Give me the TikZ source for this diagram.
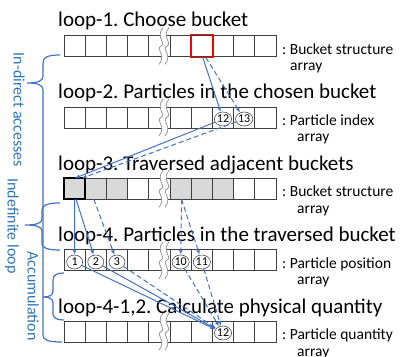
\documentclass[tikz,border=0pt]{standalone}
\usepackage{fontspec}
\setmainfont{Carlito}
\frenchspacing
\usetikzlibrary{arrows.meta,shapes.geometric}
\definecolor{lnblue}{RGB}{68,114,196}
\definecolor{txblue}{RGB}{46,117,182}
\definecolor{cellgray}{RGB}{217,217,217}
\newcommand\wavebrk[2]{%
  \fill[white] (163,#1-8) .. controls (155,#1+2) and (167,#1+7) .. (161,{(#1+#2)/2}) .. controls (155,#2-7) and (167,#2-2) .. (159,#2+8)
     -- (165,#2+8) .. controls (173,#2-2) and (161,#2-7) .. (167,{(#1+#2)/2}) .. controls (173,#1+7) and (161,#1+2) .. (169,#1-8) -- cycle;
  \draw[black!45, line width=0.7pt] (163,#1-8) .. controls (155,#1+2) and (167,#1+7) .. (161,{(#1+#2)/2}) .. controls (155,#2-7) and (167,#2-2) .. (159,#2+8);
  \draw[black!45, line width=0.7pt] (169,#1-8) .. controls (161,#1+2) and (173,#1+7) .. (167,{(#1+#2)/2}) .. controls (161,#2-7) and (173,#2-2) .. (165,#2+8);
}
\begin{document}
\begin{tikzpicture}[x=1pt,y=-1pt,
  cell/.style={draw=black!75, line width=0.8pt, minimum width=21.2pt, minimum height=21pt, inner sep=0pt, outer sep=0pt},
  pnum/.style={ellipse, draw=black!70, line width=0.6pt, fill=white, minimum width=16pt, minimum height=14pt, inner sep=0pt, font=\fontsize{12}{12}\selectfont},
  title/.style={anchor=base west, inner sep=0pt, font=\fontsize{21}{24}\selectfont},
  lbl/.style={anchor=base west, inner sep=0pt, font=\fontsize{15.5}{18}\selectfont},
  side/.style={text=txblue, rotate=-90, inner sep=0pt, font=\fontsize{16}{18}\selectfont},
  brace/.style={draw=lnblue, line width=1.2pt},
  arr/.style={draw=lnblue, line width=1pt, -{Latex[length=5pt,width=4pt]}},
  darr/.style={arr, dash pattern=on 5pt off 3pt},
]
\useasboundingbox (0,0) rectangle (401,356);

% arrays
\foreach \rr/\yy in {1/46,2/117.4,4/260.2,5/331.6} {
  \foreach \ii in {1,...,10} {
    \node[cell] (r\rr c\ii) at ({64+21.2*(\ii-0.5)}, \yy) {};
  }
}
\foreach \ii/\ff in {1/cellgray,2/cellgray,3/cellgray,4/white,5/white,6/cellgray,7/cellgray,8/cellgray,9/white,10/white} {
  \node[cell, fill=\ff] (r3c\ii) at ({64+21.2*(\ii-0.5)}, 188.8) {};
}
\wavebrk{35.5}{56.5}
\wavebrk{106.9}{127.9}
\wavebrk{178.3}{199.3}
\wavebrk{249.7}{270.7}
\wavebrk{321.1}{342.1}

% highlighted cells
\node[draw=red, line width=1.8pt, minimum width=22pt, minimum height=23pt, inner sep=0pt, outer sep=0pt] (red) at (r1c7) {};
\node[draw=black, fill=cellgray, line width=1.8pt, minimum width=21.2pt, minimum height=21pt, inner sep=0pt, outer sep=0pt] (thk) at (r3c1) {};

% particle numbers
\node[pnum] (a12) at (223,119) {12};
\node[pnum] (a13) at (244.2,119) {13};
\node[pnum] (p1) at (74.6,262) {1};
\node[pnum] (p2) at (95.8,262) {2};
\node[pnum] (p3) at (117,262) {3};
\node[pnum] (p10) at (180.6,262) {10};
\node[pnum] (p11) at (201.8,262) {11};
\node[pnum] (q12) at (223,333) {12};

% titles
\node[title] (t1) at (58,27) {loop-1. Choose bucket};
\node[title] (t2) at (58,98.5) {loop-2. Particles in the chosen bucket};
\node[title] (t3) at (58,170) {loop-3. Traversed adjacent buckets};
\node[title] (t4) at (58,241) {loop-4. Particles in the traversed bucket};
\node[title] (t5) at (58,313) {loop-4-1,2. Calculate physical quantity};

% right labels
\node[lbl] (l1a) at (282,54) {: Bucket structure};
\node[lbl] (l1b) at (290,70.5) {array};
\node[lbl] (l2a) at (282,125.4) {: Particle index};
\node[lbl] (l2b) at (297,141.9) {array};
\node[lbl] (l3a) at (282,196.8) {: Bucket structure};
\node[lbl] (l3b) at (297,213.3) {array};
\node[lbl] (l4a) at (282,268.2) {: Particle position};
\node[lbl] (l4b) at (297,284.7) {array};
\node[lbl] (l5a) at (282,339.6) {: Particle quantity};
\node[lbl] (l5b) at (297,356) {array};

% arrows
\draw[arr] ([xshift=1pt]red.south) -- (a12);
\draw[darr] ([xshift=4pt]red.south) -- (a13);
\draw[arr] (a12) -- (thk.north);
\draw[darr] (a13) -- ([xshift=7pt]thk.north);
\draw[arr] (thk.south) -- (p1);
\draw[arr] ([xshift=1.5pt]thk.south) -- (p2);
\draw[darr] ([xshift=-2pt]r3c2.south) -- (p3);
\draw[darr] ([xshift=1pt]r3c6.south) -- (p10);
\draw[darr] ([xshift=1pt]r3c6.south) -- (p11);
\draw[arr] (p1) -- (q12);
\draw[arr] (p2) -- (q12);
\draw[darr] (p3) -- (q12);
\draw[darr] (p10) -- (q12);
\draw[darr] (p11) -- (q12);

% braces
\draw[brace] (60,55) .. controls (48,55) and (43,57) .. (43,63) -- (43,76) .. controls (43,81) and (38,83) .. (27,83) .. controls (38,83) and (43,85) .. (43,90) -- (43,335) .. controls (43,340) and (48,342) .. (62,342);
\draw[brace] (60,203) .. controls (48,203) and (42,205) .. (42,210) -- (42,219) .. controls (42,223) and (37,225) .. (25,225) .. controls (37,225) and (42,227) .. (42,231) -- (42,244) .. controls (42,248) and (48,250) .. (60,250);
\draw[brace] (64,273) .. controls (57,273) and (53,275) .. (53,280) -- (53,291) .. controls (53,295) and (50,297) .. (43,297) .. controls (50,297) and (53,299) .. (53,303) -- (53,314) .. controls (53,318) and (57,320) .. (64,320);

% side labels
\node[side] (s1) at (19,110) {In-direct accesses};
\node[side] (s2) at (12,226) {Indefinite loop};
\node[side] (s3) at (33,296) {Accumulation};
\end{tikzpicture}
\end{document}
